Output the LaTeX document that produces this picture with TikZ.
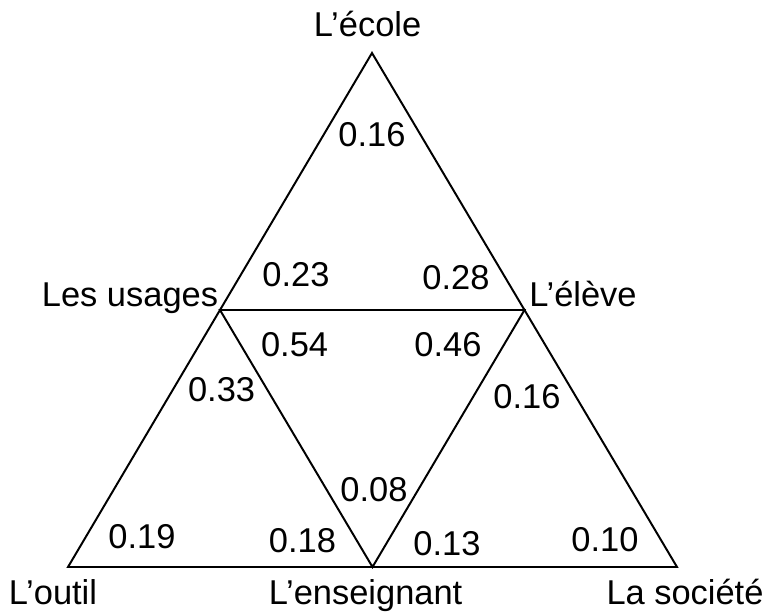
\documentclass[tikz,border=0pt]{standalone}
\usepackage{fontspec}
\setmainfont{Liberation Sans}
\usetikzlibrary{calc}

\begin{document}
\begin{tikzpicture}[
  edge/.style={line width=1.4pt, line join=miter},
  val/.style={anchor=base, inner sep=0pt, font=\fontsize{24.5}{29}\selectfont},
  pole/.style={anchor=base, inner sep=0pt, font=\fontsize{24.5}{29}\selectfont}]
\useasboundingbox (0,0) rectangle (19.175,15.375);

% sommets du grand triangle
\coordinate (ecole) at (9.3,14.05);
\coordinate (outil) at (1.7,1.2);
\coordinate (societe) at (16.925,1.2);
\coordinate (enseignant) at ($(outil)!0.5!(societe)$);
\coordinate (usages) at ($(ecole)!0.5!(outil)$);
\coordinate (eleve) at ($(ecole)!0.5!(societe)$);

\draw[edge] (ecole) -- (outil) -- (societe) -- cycle;
\draw[edge] (usages) -- (eleve) -- (enseignant) -- cycle;

% poles
\node[pole] (tEcole) at (9.19,14.46) {L’école};
\node[pole] (tUsages) at (3.25,7.725) {Les usages};
\node[pole] (tEleve) at (14.575,7.725) {L’élève};
\node[pole] (tOutil) at (1.325,0.275) {L’outil};
\node[pole] (tEnseignant) at (9.14,0.275) {L’enseignant};
\node[pole] (tSociete) at (17.125,0.275) {La société};

% valeurs
\node[val] (v1) at (9.3,11.71) {0.16};
\node[val] (v2) at (7.4,8.225) {0.23};
\node[val] (v3) at (11.4,8.15) {0.28};
\node[val] (v4) at (7.365,6.475) {0.54};
\node[val] (v5) at (11.2,6.475) {0.46};
\node[val] (v6) at (5.54,5.35) {0.33};
\node[val] (v7) at (13.175,5.175) {0.16};
\node[val] (v8) at (9.35,2.85) {0.08};
\node[val] (v9) at (3.55,1.675) {0.19};
\node[val] (v10) at (7.56,1.575) {0.18};
\node[val] (v11) at (11.175,1.5) {0.13};
\node[val] (v12) at (15.125,1.6) {0.10};
\end{tikzpicture}
\end{document}
